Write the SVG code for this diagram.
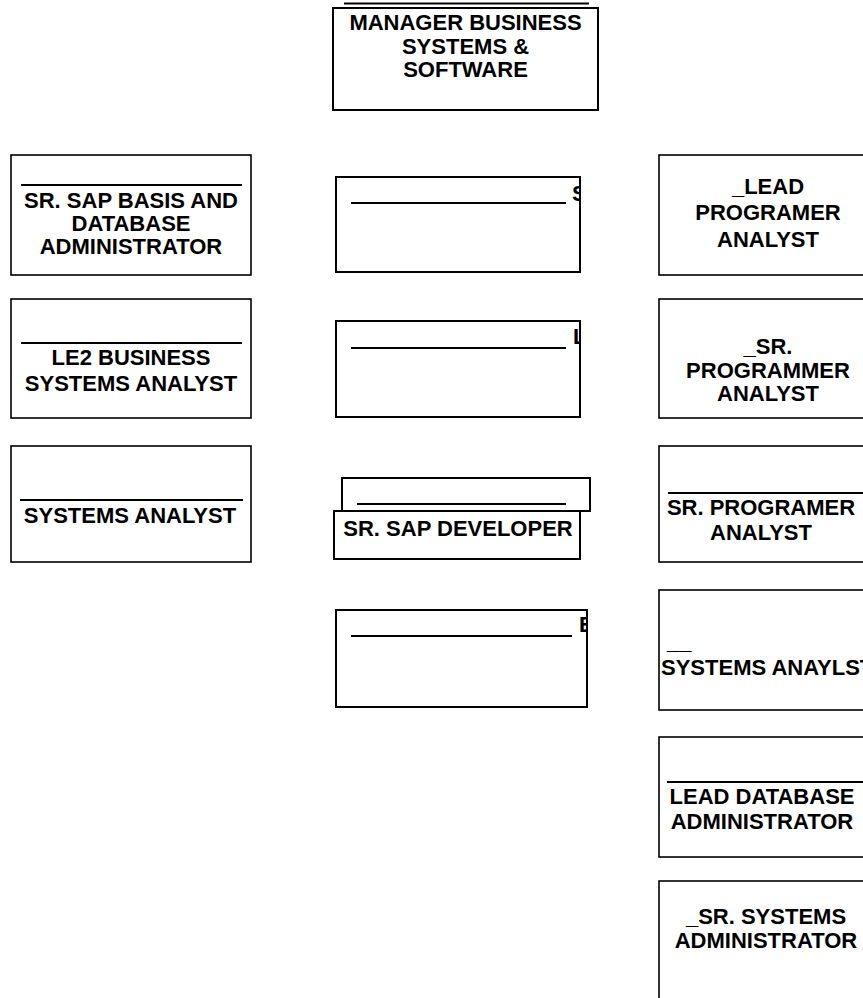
<svg xmlns="http://www.w3.org/2000/svg" width="863" height="998" viewBox="0 0 863 998">
<style>
.box{fill:#fff;stroke:#000;stroke-width:1.6}
.mbox{fill:#fff;stroke:#000;stroke-width:2}
.rule{stroke:#000;stroke-width:2}
text{font-family:"Liberation Sans",Arial,sans-serif;font-weight:bold;font-size:22px;fill:#000}
.c{text-anchor:middle}
</style>
<defs>
<clipPath id="clipS"><rect x="336" y="177" width="244" height="95"/></clipPath>
<clipPath id="clipL"><rect x="336" y="321" width="244" height="96"/></clipPath>
<clipPath id="clipE"><rect x="336" y="610" width="251" height="97"/></clipPath>
</defs>
<rect width="863" height="998" fill="#fff"/>
<g id="connectors"></g>
<g id="manager">
<line class="rule" x1="344" y1="3.5" x2="589" y2="3.5"/>
<rect class="mbox" x="333" y="8" width="265" height="102"/>
<text class="c" x="465.5" y="30">MANAGER BUSINESS</text>
<text class="c" x="465.5" y="53.5">SYSTEMS &amp;</text>
<text class="c" x="465.5" y="77">SOFTWARE</text>
</g>
<g id="sr-sap-basis">
<rect class="box" x="11" y="155" width="240" height="120"/>
<line class="rule" x1="21" y1="185" x2="242" y2="185"/>
<text class="c" x="131" y="208">SR. SAP BASIS AND</text>
<text class="c" x="131" y="231">DATABASE</text>
<text class="c" x="131" y="254">ADMINISTRATOR</text>
</g>
<g id="le2-bsa">
<rect class="box" x="11" y="299" width="240" height="119"/>
<line class="rule" x1="21" y1="343" x2="242" y2="343"/>
<text class="c" x="131" y="365">LE2 BUSINESS</text>
<text class="c" x="131" y="391">SYSTEMS ANALYST</text>
</g>
<g id="systems-analyst">
<rect class="box" x="11" y="446" width="240" height="116"/>
<line class="rule" x1="20" y1="500" x2="243" y2="500"/>
<text class="c" x="130" y="523">SYSTEMS ANALYST</text>
</g>
<g id="mid-s">
<rect class="mbox" x="336" y="177" width="244" height="95"/>
<line class="rule" x1="351" y1="203" x2="566" y2="203"/>
<text x="572" y="201" clip-path="url(#clipS)">S</text>
</g>
<g id="mid-l">
<rect class="mbox" x="336" y="321" width="244" height="96"/>
<line class="rule" x1="351" y1="348" x2="566" y2="348"/>
<text x="573" y="344" clip-path="url(#clipL)">L</text>
</g>
<g id="sr-sap-developer">
<rect class="mbox" x="342" y="478" width="248" height="33"/>
<line class="rule" x1="357" y1="504" x2="566" y2="504"/>
<rect class="mbox" x="334" y="511" width="246" height="48"/>
<text class="c" x="458" y="536">SR. SAP DEVELOPER</text>
</g>
<g id="mid-e">
<rect class="mbox" x="336" y="610" width="251" height="97"/>
<line class="rule" x1="351" y1="636" x2="572" y2="636"/>
<text x="579" y="632" clip-path="url(#clipE)">E</text>
</g>
<g id="lead-programer">
<rect class="box" x="659" y="155" width="220" height="120"/>
<text class="c" x="768" y="194">_LEAD</text>
<text class="c" x="768" y="220">PROGRAMER</text>
<text class="c" x="768" y="247">ANALYST</text>
</g>
<g id="sr-programmer">
<rect class="box" x="659" y="299" width="220" height="119"/>
<text class="c" x="768" y="354">_SR.</text>
<text class="c" x="768" y="378">PROGRAMMER</text>
<text class="c" x="768" y="401">ANALYST</text>
</g>
<g id="sr-programer">
<rect class="box" x="659" y="446" width="220" height="116"/>
<line class="rule" x1="668" y1="493" x2="870" y2="493"/>
<text class="c" x="761" y="515">SR. PROGRAMER</text>
<text class="c" x="761" y="540">ANALYST</text>
</g>
<g id="systems-anaylst">
<rect class="box" x="659" y="590" width="220" height="120"/>
<text x="667" y="649">__</text>
<text x="661" y="675">SYSTEMS ANAYLST</text>
</g>
<g id="lead-dba">
<rect class="box" x="659" y="737" width="220" height="120"/>
<line class="rule" x1="667" y1="782" x2="870" y2="782"/>
<text class="c" x="762" y="804">LEAD DATABASE</text>
<text class="c" x="762" y="829">ADMINISTRATOR</text>
</g>
<g id="sr-sysadmin">
<rect class="box" x="659" y="881" width="220" height="130"/>
<text class="c" x="766" y="924">_SR. SYSTEMS</text>
<text class="c" x="766" y="948">ADMINISTRATOR</text>
</g>
</svg>
